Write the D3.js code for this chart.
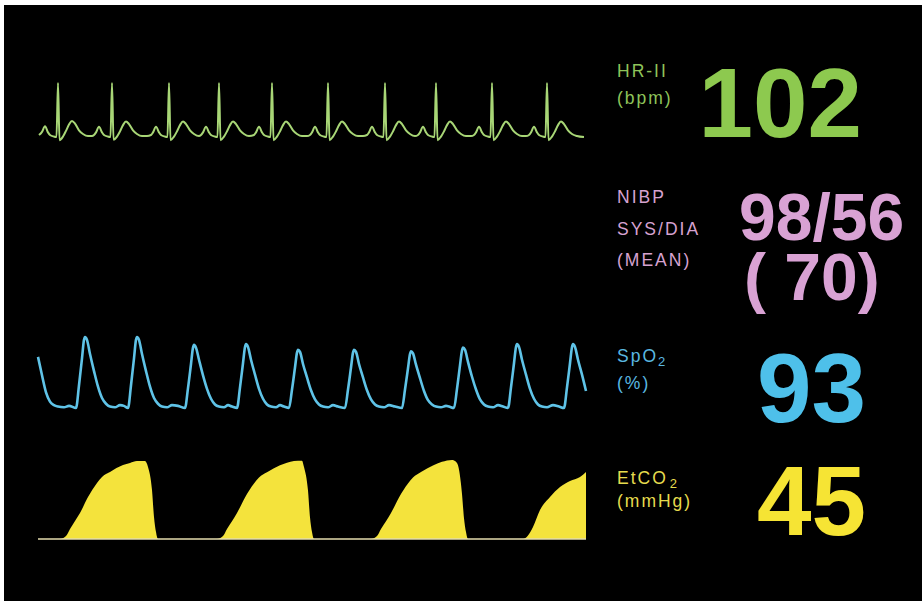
<!DOCTYPE html>
<html>
<head>
<meta charset="utf-8">
<script src="https://cdn.jsdelivr.net/npm/d3@7"></script>
<style>
  body { margin: 0; background: #fff; }
  text { font-family: "Liberation Sans", Arial, sans-serif; }
</style>
</head>
<body>
<div id="monitor"></div>
<script>
// ECG lead II, [time ms, mV]
var ecgPoints = [
  [10,0],
  [40,0.06],[70,0.17],[100,0.05],[120,0],[160,-0.03],[185,-0.04],[200,1],[215,-0.1],[250,-0.03],[280,0.08],[310,0.2],[340,0.27],[370,0.22],[410,0.09],[450,0.02],[500,-0.02],[540,-0.02],
  [560,0],[580,0.05],[610,0.16],[640,0.05],[660,0],[700,-0.03],[725,-0.04],[740,1],[755,-0.09],[790,-0.03],[820,0.07],[850,0.19],[880,0.26],[910,0.21],[950,0.09],[990,0.02],[1040,-0.02],[1090,-0.02],
  [1130,0],[1150,0.05],[1180,0.16],[1210,0.05],[1230,0],[1270,-0.03],[1295,-0.04],[1310,1],[1325,-0.1],[1360,-0.03],[1390,0.07],[1420,0.19],[1450,0.26],[1480,0.21],[1520,0.09],[1560,0.02],[1610,-0.02],
  [1630,0],[1650,0.05],[1680,0.16],[1710,0.05],[1730,0],[1770,-0.03],[1795,-0.04],[1810,1],[1825,-0.1],[1860,-0.03],[1890,0.07],[1920,0.19],[1950,0.26],[1980,0.21],[2020,0.09],[2060,0.02],[2110,-0.02],
  [2160,0],[2180,0.05],[2210,0.16],[2240,0.05],[2260,0],[2300,-0.03],[2325,-0.04],[2340,1],[2355,-0.1],[2390,-0.03],[2420,0.07],[2450,0.19],[2480,0.26],[2510,0.21],[2550,0.09],[2590,0.02],[2640,-0.02],[2690,-0.02],
  [2720,0],[2740,0.05],[2770,0.16],[2800,0.05],[2820,0],[2860,-0.03],[2885,-0.04],[2900,1],[2915,-0.1],[2950,-0.03],[2980,0.07],[3010,0.19],[3040,0.26],[3070,0.21],[3110,0.09],[3150,0.02],[3200,-0.02],[3250,-0.02],
  [3290,0],[3310,0.05],[3340,0.16],[3370,0.05],[3390,0],[3430,-0.03],[3455,-0.04],[3470,1],[3485,-0.1],[3520,-0.03],[3550,0.07],[3580,0.19],[3610,0.26],[3640,0.21],[3680,0.09],[3720,0.02],[3770,-0.02],
  [3800,0],[3820,0.05],[3850,0.16],[3880,0.05],[3900,0],[3940,-0.03],[3965,-0.04],[3980,1],[3995,-0.1],[4030,-0.03],[4060,0.07],[4090,0.19],[4120,0.26],[4150,0.21],[4190,0.09],[4230,0.02],[4280,-0.02],[4330,-0.02],
  [4360,0],[4380,0.05],[4410,0.16],[4440,0.05],[4460,0],[4500,-0.03],[4525,-0.04],[4540,1],[4555,-0.1],[4590,-0.03],[4620,0.07],[4650,0.19],[4680,0.26],[4710,0.21],[4750,0.09],[4790,0.02],[4840,-0.02],[4880,-0.02],
  [4910,0],[4930,0.05],[4960,0.16],[4990,0.05],[5010,0],[5050,-0.03],[5075,-0.04],[5090,1],[5105,-0.1],[5140,-0.03],[5170,0.07],[5200,0.19],[5230,0.26],[5260,0.21],[5300,0.09],[5340,0.02],[5390,-0.02],[5460,-0.04]
]

// pleth, [time ms, relative amplitude]
var plethPoints = [
  [0,0.72],[40,0.46],[80,0.22],[120,0.09],[160,0.04],[200,0.02],[260,0.01],[310,0.03],
  [380,0],[410,0.32],[440,0.70],[460,0.96],[470,1.00],[490,0.96],[520,0.76],[560,0.52],[600,0.30],[640,0.14],[680,0.06],[720,0.02],[770,0.01],[820,0.04],[860,0.03],
  [900,0],[930,0.32],[960,0.70],[980,0.96],[990,1.00],[1010,0.96],[1040,0.76],[1080,0.52],[1120,0.30],[1160,0.14],[1200,0.06],[1240,0.02],[1290,0.01],[1340,0.04],[1400,0.03],
  [1470,0],[1500,0.28],[1530,0.62],[1550,0.85],[1560,0.89],[1580,0.85],[1610,0.68],[1650,0.46],[1690,0.27],[1730,0.13],[1770,0.05],[1810,0.02],[1860,0.01],[1900,0.04],[1940,0.02],
  [1990,0],[2020,0.29],[2050,0.63],[2070,0.86],[2080,0.90],[2100,0.86],[2130,0.68],[2170,0.47],[2210,0.27],[2250,0.13],[2290,0.05],[2330,0.02],[2380,0.01],[2420,0.04],[2460,0.02],
  [2510,0],[2540,0.26],[2570,0.57],[2590,0.78],[2600,0.82],[2620,0.79],[2650,0.62],[2690,0.43],[2730,0.25],[2770,0.12],[2810,0.05],[2850,0.02],[2900,0.01],[2950,0.04],[3000,0.02],
  [3070,0],[3100,0.26],[3130,0.57],[3150,0.78],[3160,0.82],[3180,0.79],[3210,0.62],[3250,0.43],[3290,0.25],[3330,0.12],[3370,0.05],[3410,0.02],[3460,0.01],[3510,0.04],[3570,0.02],
  [3640,0],[3670,0.26],[3700,0.56],[3720,0.76],[3730,0.80],[3750,0.77],[3780,0.61],[3820,0.42],[3860,0.24],[3900,0.11],[3940,0.05],[3980,0.02],[4030,0.01],[4080,0.03],[4110,0.02],
  [4160,0],[4190,0.27],[4220,0.60],[4240,0.81],[4250,0.85],[4270,0.82],[4300,0.65],[4340,0.44],[4380,0.26],[4420,0.12],[4460,0.05],[4500,0.02],[4550,0.01],[4600,0.04],[4650,0.02],
  [4700,0],[4730,0.29],[4760,0.63],[4780,0.86],[4790,0.90],[4810,0.86],[4840,0.68],[4880,0.47],[4920,0.27],[4960,0.13],[5000,0.05],[5040,0.02],[5090,0.01],[5150,0.04],[5210,0.02],
  [5260,0],[5290,0.29],[5320,0.63],[5340,0.86],[5350,0.90],[5370,0.86],[5400,0.68],[5440,0.47],[5480,0.24]
]

// capnogram, [time ms, mmHg]
var co2Points = [
  [0,0],[220,0],[280,1.7],[320,5.8],[370,10.4],[420,15],[500,24.2],[590,32.3],[640,35.8],[720,38.7],[850,42.7],[920,43.9],[990,45],[1070,45],[1100,41.5],[1140,28.3],[1160,12.7],[1180,4],[1200,0],
  [1790,0],[1850,1.7],[1890,5.8],[1940,10.2],[1990,15],[2070,24],[2160,32],[2210,35.5],[2290,38.5],[2420,42.5],[2490,44],[2560,45],[2640,45.2],[2660,41.5],[2700,28],[2720,12.5],[2740,4],[2760,0],
  [3330,0],[3390,1.7],[3430,5.8],[3480,10.2],[3530,15],[3610,24],[3700,32],[3750,35.5],[3830,38.7],[3960,42.7],[4040,44.5],[4140,45.6],[4180,44.5],[4210,40],[4240,26],[4260,12],[4280,4],[4300,0],
  [4850,0],[4900,2],[4950,6.9],[5020,16.7],[5120,24.2],[5220,30],[5320,33.5],[5420,35.8],[5480,38.7]
]

var labels = [
  { key: "hr",   lines: ["HR-II", "(bpm)"],               color: "#8fc45a" },
  { key: "nibp", lines: ["NIBP", "SYS/DIA", "(MEAN)"],   color: "#d6a2d0" },
  { key: "spo2", lines: ["SpO|2", "(%)"],                 color: "#5ab8e0" },
  { key: "co2",  lines: ["EtCO|2", "(mmHg)"],             color: "#e6dc4e" }
]
var readings = [
  { key: "hr",   text: "102",   color: "#8dc94f" },
  { key: "nibp", text: "98/56", color: "#d9a2d4" },
  { key: "map",  text: "( 70)", color: "#d9a2d4" },
  { key: "spo2", text: "93",    color: "#4ec0ea" },
  { key: "co2",  text: "45",    color: "#f6e434" }
]

var width = 922,
    height = 603

var svg = d3.select('#monitor').append('svg')
  .attr('width', width)
  .attr('height', height)

svg.append('rect')
  .attr('x', 4).attr('y', 5)
  .attr('width', width - 4).attr('height', 596)
  .attr('fill', '#000')

var x = d3.scaleLinear()
  .domain([0, 5480])
  .range([38, 586])

var yEcg = d3.scaleLinear().domain([0, 1]).range([135, 83])
var yPleth = d3.scaleLinear().domain([0, 1]).range([408, 337])
var yCo2 = d3.scaleLinear().domain([0, 45]).range([539, 461])

function trace(points, y) {
  return d3.line()
    .x(function (d) { return x(d[0]) })
    .y(function (d) { return y(d[1]) })
    .curve(d3.curveMonotoneX)(points)
}

svg.append('path')
  .attr('d', trace(ecgPoints, yEcg))
  .attr('fill', 'none')
  .attr('stroke', '#a8d676')
  .attr('stroke-width', 2)
  .attr('stroke-linejoin', 'round')

svg.append('path')
  .attr('d', trace(plethPoints, yPleth))
  .attr('fill', 'none')
  .attr('stroke', '#5fc3e7')
  .attr('stroke-width', 2.6)
  .attr('stroke-linejoin', 'round')

var co2Area = d3.area()
  .x(function (d) { return x(d[0]) })
  .y0(yCo2(0))
  .y1(function (d) { return yCo2(d[1]) })
  .curve(d3.curveMonotoneX)

svg.append('path')
  .attr('d', co2Area(co2Points))
  .attr('fill', '#f4e33c')

svg.append('line')
  .attr('x1', x(0)).attr('x2', x(5480))
  .attr('y1', yCo2(0)).attr('y2', yCo2(0))
  .attr('stroke', '#e4dcae')
  .attr('stroke-width', 1.6)

// label text rows: baselines per block
var labelRows = {
  hr:   [77, 104],
  nibp: [203, 235, 266],
  spo2: [362, 389],
  co2:  [484, 507]
}

labels.forEach(function (l) {
  l.lines.forEach(function (line, i) {
    var parts = line.split('|')
    var t = svg.append('text')
      .attr('x', 617)
      .attr('y', labelRows[l.key][i])
      .attr('fill', l.color)
      .attr('font-size', 17.5)
      .attr('letter-spacing', 2)
      .text(parts[0])
    if (parts[1]) {
      t.append('tspan')
        .attr('font-size', 13)
        .attr('dx', l.key == 'co2' ? 2 : 0)
        .attr('dy', 4)
        .attr('letter-spacing', 0)
        .text(parts[1])
    }
  })
})

var readingPos = {
  hr:   { x: 862, y: 137, size: 98, anchor: 'end' },
  nibp: { x: 739, y: 240, size: 66, anchor: 'start' },
  map:  { x: 744, y: 300, size: 66, anchor: 'start' },
  spo2: { x: 866, y: 422, size: 98, anchor: 'end' },
  co2:  { x: 866, y: 535, size: 98, anchor: 'end' }
}

svg.selectAll('.reading')
  .data(readings)
  .enter().append('text')
  .attr('class', 'reading')
  .attr('x', function (d) { return readingPos[d.key].x })
  .attr('y', function (d) { return readingPos[d.key].y })
  .attr('font-size', function (d) { return readingPos[d.key].size })
  .attr('text-anchor', function (d) { return readingPos[d.key].anchor })
  .attr('font-weight', 'bold')
  .attr('fill', function (d) { return d.color })
  .attr('xml:space', 'preserve')
  .style('white-space', 'pre')
  .text(function (d) { return d.text })
</script>
</body>
</html>
